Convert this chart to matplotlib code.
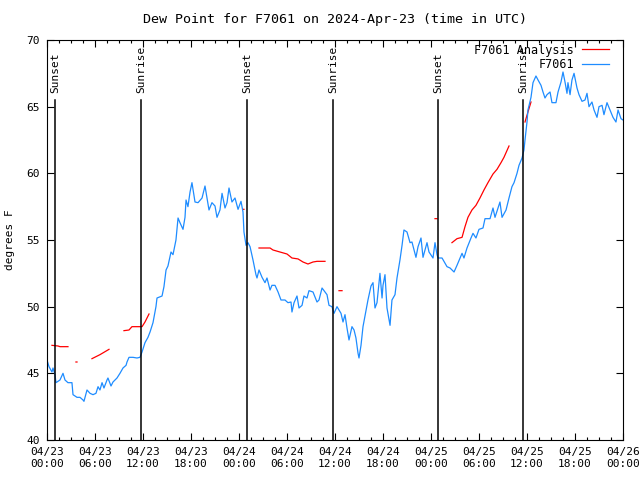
import numpy as np
import matplotlib
matplotlib.use("Agg")
import matplotlib.pyplot as plt
from matplotlib.ticker import MultipleLocator

# ------------------------------------------------------------------
# Data: hours since 2024-04-23 00:00 UTC, dew point in deg F
# ------------------------------------------------------------------
obs_hours = [
    0.0, 0.25, 0.62, 0.75, 1.0, 1.12, 1.62, 2.0, 2.25, 2.62, 3.12, 3.25, 3.75,
    4.12, 4.5, 4.62, 5.0, 5.38, 5.75, 6.12, 6.38, 6.62, 6.88, 7.12, 7.5, 7.62,
    8.0, 8.25, 8.75, 9.12, 9.5, 9.88, 10.0, 10.25, 10.75, 11.25, 11.62, 11.88,
    12.25, 12.62, 12.88, 13.25, 13.62, 13.75, 14.38, 14.62, 14.88, 15.12, 15.5,
    15.75, 16.12, 16.38, 16.62, 17.0, 17.25, 17.38, 17.62, 17.88, 18.12, 18.5,
    18.88, 19.38, 19.75, 20.0, 20.25, 20.62, 21.0, 21.25, 21.62, 21.88, 22.25,
    22.5, 22.75, 23.12, 23.5, 23.88, 24.25, 24.5, 24.62, 24.88, 25.12, 25.38,
    25.75, 26.12, 26.25, 26.5, 26.88, 27.25, 27.5, 27.88, 28.12, 28.5, 28.88,
    29.25, 29.75, 30.12, 30.5, 30.62, 30.88, 31.25, 31.5, 31.88, 32.12, 32.5,
    32.75, 33.25, 33.75, 34.0, 34.38, 34.75, 35.0, 35.25, 35.62, 35.88, 36.25,
    36.75, 37.0, 37.25, 37.5, 37.75, 38.12, 38.38, 38.62, 38.88, 39.0, 39.25,
    39.5, 39.88, 40.12, 40.5, 40.75, 41.0, 41.25, 41.62, 41.88, 42.0, 42.25,
    42.5, 42.88, 43.12, 43.5, 43.75, 44.12, 44.38, 44.62, 45.0, 45.38, 45.62,
    46.12, 46.38, 46.75, 47.0, 47.5, 47.75, 48.25, 48.5, 48.75, 48.88, 49.38,
    50.0, 50.38, 50.88, 51.25, 51.88, 52.12, 52.5, 53.0, 53.25, 53.62, 54.0,
    54.5, 54.75, 55.38, 55.75, 56.0, 56.38, 56.62, 56.88, 57.38, 57.75, 58.12,
    58.38, 58.75, 59.0, 59.38, 59.62, 59.75, 60.0, 60.12, 60.5, 60.75, 61.12,
    61.38, 61.75, 62.0, 62.25, 62.5, 62.88, 63.12, 63.62, 63.88, 64.25, 64.5,
    64.75, 65.0, 65.12, 65.38, 65.62, 65.88, 66.25, 66.5, 66.88, 67.25, 67.5,
    67.75, 68.12, 68.38, 68.75, 69.0, 69.38, 69.62, 70.0, 70.38, 70.75, 71.12,
    71.38, 71.75, 72.0,
]
obs_dewpt = [
    46.0, 45.5, 45.1, 45.4, 44.9, 44.3, 44.5, 45.0, 44.5, 44.3, 44.3, 43.4, 43.2,
    43.2, 43.0, 42.9, 43.75, 43.5, 43.4, 43.5, 44.0, 43.75, 44.3, 43.9, 44.5, 44.65,
    44.05, 44.35, 44.65, 45.0, 45.4, 45.6, 45.85, 46.2, 46.2, 46.15, 46.2, 46.6,
    47.3, 47.7, 48.1, 48.8, 50.0, 50.65, 50.8, 51.5, 52.75, 53.05, 54.1,
    53.9, 55.0, 56.65, 56.3, 55.8, 56.7, 58.0, 57.5, 58.6, 59.3, 57.85,
    57.8, 58.15, 59.05, 58.15, 57.25, 57.8, 57.55, 56.7, 57.25, 58.5, 57.4,
    57.8, 58.9, 57.85, 58.15, 57.3, 57.9, 57.1, 55.6, 54.6, 54.8, 54.5,
    53.5, 52.4, 52.15, 52.75, 52.2, 51.8, 52.15, 51.25, 51.6, 51.6, 51.1,
    50.5, 50.5, 50.3, 50.35, 49.6, 50.3, 50.8, 49.9, 50.1, 50.8, 50.65,
    51.2, 51.1, 50.35, 50.5, 51.4, 51.1, 50.9, 50.1, 50.0, 49.5, 50.0,
    49.5, 48.85, 49.4, 48.4, 47.5, 48.5, 48.25, 47.65, 46.5, 46.15, 47.1,
    48.5, 49.75, 50.5, 51.55, 51.8, 49.9, 50.3, 52.5, 50.65, 51.6, 52.4,
    49.9, 48.6, 50.5, 50.9, 52.15, 53.5, 54.6, 55.75, 55.6, 54.8, 54.85,
    53.7, 54.5, 55.15, 53.7, 54.8, 54.1, 53.65, 54.8, 53.9, 53.65, 53.65,
    53.0, 52.9, 52.6, 53.1, 54.0, 53.65, 54.4, 55.15, 55.5, 55.15, 55.8,
    55.9, 56.6, 56.6, 57.4, 56.7, 57.4, 57.85, 56.7, 57.25, 58.15, 59.0,
    59.3, 60.0, 60.6, 61.15, 61.75, 62.5, 63.85, 64.75, 65.7, 66.8, 67.3,
    67.0, 66.6, 66.1, 65.65, 65.9, 66.1, 65.3, 65.3, 66.1, 66.85, 67.6,
    66.85, 66.0, 66.8, 65.9, 67.0, 67.5, 66.4, 65.9, 65.4, 65.5, 66.0,
    65.0, 65.35, 64.75, 64.2, 65.0, 65.1, 64.4, 65.3, 64.75, 64.2, 63.85,
    64.75, 64.1, 64.0,
]

# analysis series, nan marks the gaps
ana_hours = [
    0.62, 1.38, 1.62, 2.62, np.nan,
    3.62, 3.75, np.nan,
    5.62, 6.62, 7.75, np.nan,
    9.62, 10.25, 10.62, 11.88, 12.25, 12.75, np.nan,
    24.5, 24.62, np.nan,
    26.5, 27.88, 28.25, 29.12, 30.0, 30.62, 31.38, 32.0, 32.62, 33.25, 33.75, 34.75, np.nan,
    36.5, 36.88, np.nan,
    48.5, 48.75, np.nan,
    50.62, 51.25, 51.88, 52.25, 52.62, 53.12, 53.62, 54.12, 54.62, 55.12, 55.75,
    56.25, 56.75, 57.12, 57.75, np.nan,
    59.75, 60.12, 60.5,
]
ana_dewpt = [
    47.1, 47.05, 47.0, 47.0, np.nan,
    45.85, 45.85, np.nan,
    46.1, 46.4, 46.8, np.nan,
    48.2, 48.25, 48.5, 48.5, 48.85, 49.45, np.nan,
    57.3, 57.3, np.nan,
    54.4, 54.4, 54.25, 54.1, 53.95, 53.65, 53.58, 53.35, 53.2, 53.35, 53.4, 53.4, np.nan,
    51.2, 51.2, np.nan,
    56.6, 56.6, np.nan,
    54.8, 55.1, 55.2, 56.0, 56.7, 57.25, 57.6, 58.15, 58.75, 59.3, 59.95,
    60.3, 60.8, 61.2, 62.05, np.nan,
    63.85, 64.6, 65.35,
]

sun_hours = [1.0, 11.75, 25.0, 35.75, 48.9, 59.5]
sun_labels = ["Sunset", "Sunrise", "Sunset", "Sunrise", "Sunset", "Sunrise"]

tick_hours = list(range(0, 73, 6))
tick_labels = ["04/23\n00:00", "04/23\n06:00", "04/23\n12:00", "04/23\n18:00",
               "04/24\n00:00", "04/24\n06:00", "04/24\n12:00", "04/24\n18:00",
               "04/25\n00:00", "04/25\n06:00", "04/25\n12:00", "04/25\n18:00",
               "04/26\n00:00"]

# ------------------------------------------------------------------
plt.rcParams["font.family"] = "DejaVu Sans Mono"
plt.rcParams["font.size"] = 8

fig = plt.figure(figsize=(6.4, 4.8), dpi=100)
ax = fig.add_axes([47 / 640, 40 / 480, 576 / 640, 400 / 480])

ax.plot(ana_hours, ana_dewpt, color="#ff0000", lw=0.9, label="F7061 Analysis")
ax.plot(obs_hours, obs_dewpt, color="#1e8cff", lw=0.9, label="F7061")

for h, lab in zip(sun_hours, sun_labels):
    ax.plot([h, h], [40, 65.5], color="black", lw=1.1)
    ax.text(h, 66.0, lab, rotation=90, ha="center", va="bottom", fontsize=8)

ax.set_xlim(0, 72)
ax.set_ylim(40, 70)
ax.set_xticks(tick_hours)
ax.set_xticklabels(tick_labels)
ax.xaxis.set_minor_locator(MultipleLocator(1.5))
ax.yaxis.set_major_locator(MultipleLocator(5))
ax.tick_params(which="both", direction="in", top=True, right=True, width=0.8)
ax.tick_params(which="major", length=5, pad=5)
ax.tick_params(which="minor", length=2.5)
for s in ax.spines.values():
    s.set_linewidth(0.8)

ax.set_ylabel("degrees F", labelpad=8)
ax.set_title("Dew Point for F7061 on 2024-Apr-23 (time in UTC)", pad=12)

ax.legend(loc="upper right", bbox_to_anchor=(1 - 10 / 576, 1.0),
          frameon=False, markerfirst=False,
          handlelength=2.3, handletextpad=0.7, labelspacing=0.1,
          borderaxespad=0.2, borderpad=0.1, fontsize=8.5)

fig.savefig("out.png", dpi=100)
